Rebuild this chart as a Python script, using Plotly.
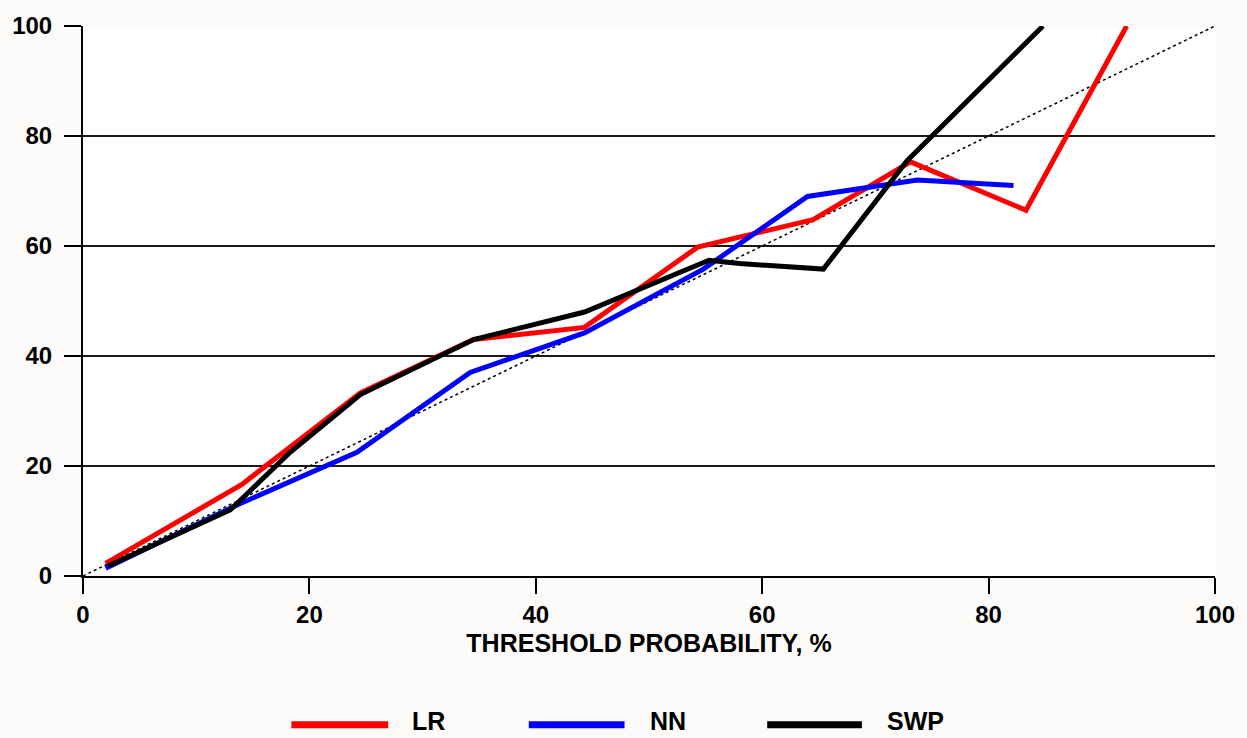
import plotly.graph_objects as go

# ---- data ----
lr_x = [2, 14, 24.5, 34.5, 44.3, 54.3, 64.5, 73.1, 83.3, 92.2]
lr_y = [2.3, 16.6, 33.3, 43, 45.2, 59.8, 64.8, 75.3, 66.5, 100]

nn_x = [2, 13.7, 24.2, 34.2, 44.3, 54.8, 64.0, 73.7, 82.2]
nn_y = [1.4, 13.0, 22.5, 37.0, 44.2, 55.8, 69.0, 72.0, 71.0]

swp_x = [2.2, 13.0, 18.3, 24.5, 34.5, 44.3, 55.3, 58.0, 65.4, 72.8, 84.8]
swp_y = [1.8, 12.0, 22.5, 33.0, 43.0, 48.0, 57.4, 56.8, 55.8, 75.5, 100]

ref_x = [0, 100]
ref_y = [0, 100]

x_ticks = [0, 20, 40, 60, 80, 100]
y_ticks = [0, 20, 40, 60, 80, 100]

series_names = ["LR", "NN", "SWP"]
series_colors = ["#ff0000", "#0000ff", "#000000"]

FONT = "Liberation Sans, Arial, sans-serif"

fig = go.Figure()
fig.add_trace(go.Scatter(x=ref_x, y=ref_y, mode="lines",
                         line=dict(color="#000000", width=1.5, dash="dot"),
                         showlegend=False, hoverinfo="skip"))
for xs, ys, name, col in zip([lr_x, nn_x, swp_x], [lr_y, nn_y, swp_y],
                             series_names, series_colors):
    fig.add_trace(go.Scatter(x=xs, y=ys, mode="lines", name=name,
                             line=dict(color=col, width=5), showlegend=False))

# manual legend (paper coordinates)
leg_y = -0.2703
leg_items = [(0.1841, 0.2696, 0.2890), (0.3938, 0.4784, 0.4987), (0.6044, 0.6881, 0.7084)]
for (x0, x1, xt), name, col in zip(leg_items, series_names, series_colors):
    fig.add_shape(type="line", xref="paper", yref="paper", x0=x0, x1=x1,
                  y0=leg_y, y1=leg_y, line=dict(color=col, width=7))
    fig.add_annotation(xref="paper", yref="paper", x=xt, y=leg_y + 0.006,
                       text=name, showarrow=False, xanchor="left", yanchor="middle",
                       font=dict(family=FONT, size=25, color="#000000", weight="bold"))

fig.update_layout(
    width=1247, height=738,
    margin=dict(l=80, r=32, t=21, b=162),
    paper_bgcolor="#fcfbf9", plot_bgcolor="#ffffff",
    showlegend=False,
    font=dict(family=FONT, size=24, color="#000000", weight="bold"),
)
fig.update_xaxes(range=[0, 100], tickvals=x_ticks, showgrid=False,
                 showline=True, linecolor="#000000", linewidth=2,
                 ticks="outside", ticklen=16, tickwidth=2, tickcolor="#000000",
                 tickfont=dict(family=FONT, size=24, weight="bold"),
                 zeroline=False,
                 title=dict(text="THRESHOLD PROBABILITY, %", standoff=8,
                            font=dict(family=FONT, size=25, weight="bold")))
fig.update_yaxes(range=[0, 100], tickvals=y_ticks, showgrid=True,
                 gridcolor="#1a1a1a", gridwidth=2,
                 showline=True, linecolor="#000000", linewidth=2,
                 ticks="outside", ticklen=17, tickwidth=2, tickcolor="#000000",
                 tickfont=dict(family=FONT, size=24, weight="bold"),
                 ticklabelstandoff=7, zeroline=False)

fig.write_html("out.html", config={"displayModeBar": False},
               post_script="document.body.style.margin='0';document.body.style.overflow='hidden';")
